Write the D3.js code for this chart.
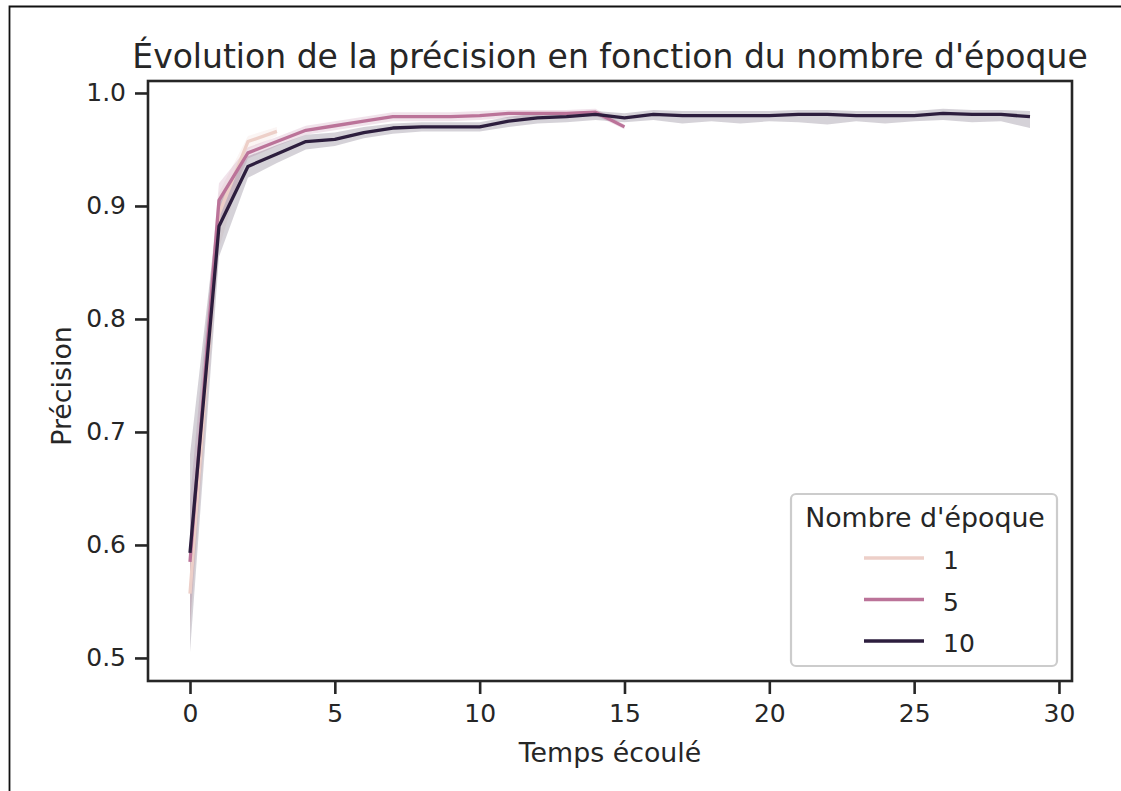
<!DOCTYPE html>
<html>
<head>
<meta charset="utf-8">
<script src="https://cdn.jsdelivr.net/npm/d3@7"></script>
<style>
  html, body { margin: 0; padding: 0; background: #fff; }
  svg { display: block; font-family: "DejaVu Sans", sans-serif; }
</style>
</head>
<body>
<svg id="chart" width="1121" height="791"></svg>
<script>
// Accuracy per elapsed time step, one run group per number of epochs
const epochs = [1, 5, 10];
const colors = ["#edcfc8", "#bb7399", "#2d1e3e"];

const mean1  = [0.557, 0.893, 0.957, 0.966];
const lower1 = [0.520, 0.862, 0.950, 0.962];
const upper1 = [0.600, 0.912, 0.962, 0.970];

const mean5  = [0.585, 0.905, 0.947, 0.957, 0.967, 0.971, 0.975, 0.979, 0.979, 0.979, 0.980, 0.982, 0.982, 0.982, 0.983, 0.970];
const lower5 = [0.530, 0.880, 0.942, 0.953, 0.963, 0.967, 0.971, 0.975, 0.975, 0.975, 0.976, 0.978, 0.978, 0.978, 0.980, 0.968];
const upper5 = [0.640, 0.920, 0.952, 0.961, 0.971, 0.975, 0.979, 0.983, 0.983, 0.983, 0.984, 0.985, 0.985, 0.985, 0.986, 0.972];

const mean10  = [0.593, 0.882, 0.935, 0.946, 0.957, 0.959, 0.965, 0.969, 0.970, 0.970, 0.970, 0.975, 0.978, 0.979, 0.981, 0.978, 0.981, 0.980, 0.980, 0.980, 0.980, 0.981, 0.981, 0.980, 0.980, 0.980, 0.982, 0.981, 0.981, 0.979];
const lower10 = [0.505, 0.855, 0.925, 0.938, 0.950, 0.953, 0.960, 0.964, 0.966, 0.966, 0.966, 0.970, 0.973, 0.974, 0.976, 0.974, 0.976, 0.973, 0.975, 0.973, 0.975, 0.974, 0.972, 0.975, 0.973, 0.975, 0.976, 0.974, 0.975, 0.969];
const upper10 = [0.680, 0.905, 0.944, 0.954, 0.963, 0.965, 0.970, 0.973, 0.974, 0.974, 0.974, 0.979, 0.982, 0.983, 0.984, 0.982, 0.985, 0.984, 0.984, 0.984, 0.984, 0.985, 0.985, 0.984, 0.984, 0.984, 0.986, 0.985, 0.985, 0.984];

const xTicks = [0, 5, 10, 15, 20, 25, 30];
const yTicks = [0.5, 0.6, 0.7, 0.8, 0.9, 1.0];

const groups = [
  { epoch: epochs[0], mean: mean1,  lower: lower1,  upper: upper1,  color: colors[0] },
  { epoch: epochs[1], mean: mean5,  lower: lower5,  upper: upper5,  color: colors[1] },
  { epoch: epochs[2], mean: mean10, lower: lower10, upper: upper10, color: colors[2] }
];

const svg = d3.select("#chart");
const ink = "#262626";
const tickFont = "25px", labelFont = "26.8px", titleFont = "33px";

// thin frame around the figure
svg.append("path")
  .attr("d", "M9.5,791 L9.5,6.5 L1121,6.5")
  .attr("fill", "none").attr("stroke", "#111").attr("stroke-width", 1.8);

const plotL = 148, plotR = 1072, plotT = 81, plotB = 681;
const x = d3.scaleLinear().domain([-1.45, 30.45]).range([plotL, plotR]);
const y = d3.scaleLinear().domain([0.4796, 1.0106]).range([plotB, plotT]);

const plot = svg.append("g");

// confidence bands
const area = d3.area()
  .x((d, i) => x(i))
  .y0(d => y(d[0]))
  .y1(d => y(d[1]));

groups.forEach(g => {
  const band = g.lower.map((v, i) => [v, g.upper[i]]);
  plot.append("path")
    .datum(band)
    .attr("d", area)
    .attr("fill", g.color)
    .attr("fill-opacity", 0.2)
    .attr("stroke", "none");
});

// mean lines
const line = d3.line().x((d, i) => x(i)).y(d => y(d));
groups.forEach(g => {
  plot.append("path")
    .datum(g.mean)
    .attr("d", line)
    .attr("fill", "none")
    .attr("stroke", g.color)
    .attr("stroke-width", 3.3)
    .attr("stroke-linejoin", "round")
    .attr("stroke-linecap", "butt");
});

// axes
const xAxis = d3.axisBottom(x).tickValues(xTicks).tickSize(13).tickPadding(10).tickFormat(d3.format("d"));
const yAxis = d3.axisLeft(y).tickValues(yTicks).tickSize(13).tickPadding(9).tickFormat(d3.format(".1f"));

const gx = svg.append("g").attr("transform", `translate(0,${plotB})`).call(xAxis);
const gy = svg.append("g").attr("transform", `translate(${plotL},0)`).call(yAxis);
[gx, gy].forEach(g => {
  g.select(".domain").remove();
  g.selectAll(".tick line").attr("stroke", ink).attr("stroke-width", 2.6);
  g.selectAll(".tick text").attr("fill", ink).style("font-size", tickFont).style("font-family", "DejaVu Sans");
});

// frame of the axes
svg.append("rect")
  .attr("x", plotL).attr("y", plotT)
  .attr("width", plotR - plotL).attr("height", plotB - plotT)
  .attr("fill", "none").attr("stroke", ink).attr("stroke-width", 2.6);

// title and labels
svg.append("text")
  .attr("x", (plotL + plotR) / 2).attr("y", 68)
  .attr("text-anchor", "middle")
  .attr("fill", ink).style("font-size", titleFont)
  .text("Évolution de la précision en fonction du nombre d'époque");

svg.append("text")
  .attr("x", (plotL + plotR) / 2).attr("y", 762)
  .attr("text-anchor", "middle")
  .attr("fill", ink).style("font-size", labelFont)
  .text("Temps écoulé");

svg.append("text")
  .attr("transform", `translate(71,386) rotate(-90)`)
  .attr("text-anchor", "middle")
  .attr("fill", ink).style("font-size", labelFont)
  .text("Précision");

// legend
const lg = svg.append("g");
lg.append("rect")
  .attr("x", 791).attr("y", 494).attr("width", 266).attr("height", 172)
  .attr("rx", 5).attr("fill", "#fff").attr("fill-opacity", 0.8)
  .attr("stroke", "#cccccc").attr("stroke-width", 2.2);
lg.append("text")
  .attr("x", 925).attr("y", 527).attr("text-anchor", "middle")
  .attr("fill", ink).style("font-size", labelFont)
  .text("Nombre d'époque");
groups.forEach((g, i) => {
  const yy = 558 + i * 41.5;
  lg.append("line")
    .attr("x1", 864).attr("x2", 924).attr("y1", yy).attr("y2", yy)
    .attr("stroke", g.color).attr("stroke-width", 3.3);
  lg.append("text")
    .attr("x", 943).attr("y", yy + 11)
    .attr("fill", ink).style("font-size", tickFont)
    .text(g.epoch);
});
</script>
</body>
</html>
